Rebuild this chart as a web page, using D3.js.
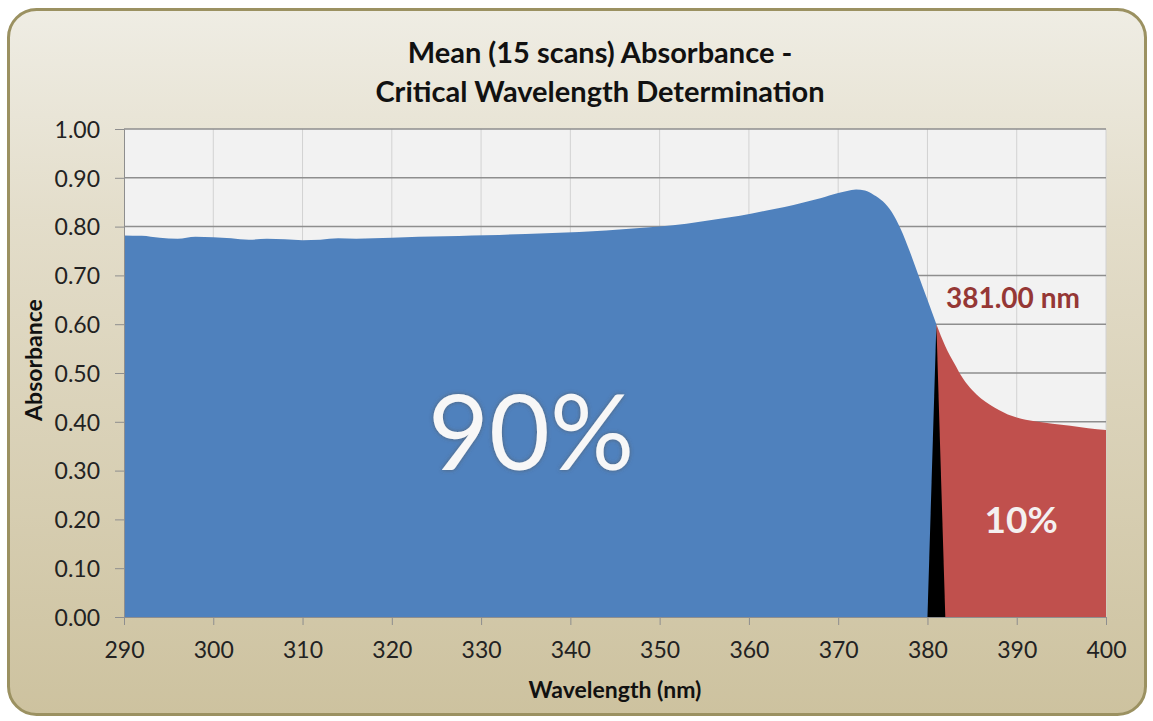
<!DOCTYPE html>
<html>
<head>
<meta charset="utf-8">
<script src="https://cdn.jsdelivr.net/npm/d3@7"></script>
<style>
  body { margin: 0; background: #ffffff; }
  text { font-family: Lato, "Open Sans", sans-serif; }
</style>
</head>
<body>
<div id="plot"></div>
<script>
// wavelength (nm) and mean absorbance
var wavelengths = [290, 292, 294, 296, 298, 300, 302, 304, 306, 308, 310, 312, 314, 316, 318, 320,
    323, 326, 329, 332, 335, 338, 341, 344, 347, 350, 353, 356, 359, 362, 364, 366, 368, 370,
    371, 372, 373, 374, 375, 376, 377, 378, 379, 380, 381, 382, 383, 384, 385, 386, 387, 388,
    389, 390, 392, 394, 396, 398, 400];
var absorbance = [0.782, 0.781, 0.777, 0.775, 0.779, 0.778, 0.776, 0.773, 0.775, 0.774, 0.772, 0.773,
    0.776, 0.775, 0.776, 0.777, 0.779, 0.780, 0.782, 0.783, 0.785, 0.787, 0.789, 0.792, 0.796, 0.800,
    0.806, 0.814, 0.822, 0.833, 0.840, 0.849, 0.858, 0.869, 0.873, 0.876, 0.874, 0.865, 0.852, 0.830,
    0.795, 0.750, 0.700, 0.650, 0.600, 0.555, 0.520, 0.488, 0.465, 0.448, 0.435, 0.424, 0.415, 0.409,
    0.401, 0.396, 0.392, 0.387, 0.383];
var criticalWavelength = 381;
var xTicks = [290, 300, 310, 320, 330, 340, 350, 360, 370, 380, 390, 400];
var yTicks = [0, 0.1, 0.2, 0.3, 0.4, 0.5, 0.6, 0.7, 0.8, 0.9, 1.0];
var titleLines = ['Mean (15 scans) Absorbance -', 'Critical Wavelength Determination'];

var data = wavelengths.map(function (w, i) { return { x: w, y: absorbance[i] }; });
var below = data.filter(function (d) { return d.x <= criticalWavelength; });
var above = data.filter(function (d) { return d.x >= criticalWavelength; });
var critPoint = data.filter(function (d) { return d.x === criticalWavelength; })[0];

var svg = d3.select('#plot')
    .append('svg')
    .attr('width', 1153)
    .attr('height', 721);

var defs = svg.append('defs');
var bg = defs.append('linearGradient')
    .attr('id', 'bg')
    .attr('x1', 0).attr('y1', 0).attr('x2', 0).attr('y2', 1);
bg.append('stop').attr('offset', '0%').attr('stop-color', '#efede4');
bg.append('stop').attr('offset', '30%').attr('stop-color', '#e3ddca');
bg.append('stop').attr('offset', '100%').attr('stop-color', '#cdc29f');

var glow = defs.append('filter')
    .attr('id', 'glow')
    .attr('x', '-20%').attr('y', '-20%').attr('width', '140%').attr('height', '140%');
glow.append('feDropShadow')
    .attr('dx', 0).attr('dy', 0)
    .attr('stdDeviation', 2)
    .attr('flood-color', '#555')
    .attr('flood-opacity', 0.7);

svg.append('rect')
    .attr('x', 8.5).attr('y', 9.5)
    .attr('width', 1137).attr('height', 705)
    .attr('rx', 28).attr('ry', 28)
    .attr('fill', 'url(#bg)')
    .attr('stroke', '#9b9161')
    .attr('stroke-width', 3);

var plotLeft = 124, plotRight = 1106, plotTop = 129, plotBottom = 617;

var x = d3.scaleLinear().domain([290, 400]).range([plotLeft, plotRight]);
var y = d3.scaleLinear().domain([0, 1]).range([plotBottom, plotTop]);

// plot area
svg.append('rect')
    .attr('x', plotLeft).attr('y', plotTop)
    .attr('width', plotRight - plotLeft).attr('height', plotBottom - plotTop)
    .attr('fill', '#f2f2f2');

svg.append('g')
    .selectAll('line')
    .data(xTicks.slice(1))
    .enter()
    .append('line')
    .attr('x1', function (d) { return x(d); })
    .attr('x2', function (d) { return x(d); })
    .attr('y1', plotTop).attr('y2', plotBottom)
    .attr('stroke', '#d2d2d2')
    .attr('stroke-width', 1);

svg.append('g')
    .selectAll('line')
    .data(yTicks.slice(1))
    .enter()
    .append('line')
    .attr('x1', plotLeft).attr('x2', plotRight)
    .attr('y1', function (d) { return y(d); })
    .attr('y2', function (d) { return y(d); })
    .attr('stroke', '#8e8e8e')
    .attr('stroke-width', 1.5);

var area = d3.area()
    .x(function (d) { return x(d.x); })
    .y0(y(0))
    .y1(function (d) { return y(d.y); })
    .curve(d3.curveMonotoneX);

svg.append('path')
    .attr('d', area(below))
    .attr('fill', '#4f81bd');

svg.append('path')
    .attr('d', area(above))
    .attr('fill', '#c0504d');

// wedge marking the critical wavelength
var wedge = d3.line()
    .x(function (d) { return x(d[0]); })
    .y(function (d) { return y(d[1]); });
svg.append('path')
    .attr('d', wedge([[criticalWavelength - 1, 0], [criticalWavelength, critPoint.y], [criticalWavelength + 1, 0]]) + 'Z')
    .attr('fill', '#000');

// axes
var xAxis = d3.axisBottom(x).tickValues(xTicks).tickSize(8).tickPadding(17);
var gx = svg.append('g')
    .attr('transform', 'translate(0,' + plotBottom + ')')
    .call(xAxis);
var yAxis = d3.axisLeft(y).tickValues(yTicks).tickSize(9).tickPadding(15)
    .tickFormat(d3.format('.2f'));
var gy = svg.append('g')
    .attr('transform', 'translate(' + plotLeft + ',0)')
    .call(yAxis);

[gx, gy].forEach(function (g) {
    g.select('.domain').attr('stroke', '#8e8e8e').attr('stroke-width', 1);
    g.selectAll('.tick line').attr('stroke', '#8e8e8e');
    g.selectAll('.tick text')
        .attr('fill', '#222')
        .style('font-size', '23px')
        .style('font-family', 'Lato, sans-serif');
});
gy.selectAll('.tick text').attr('dy', '0.36em');

// titles
svg.append('text')
    .attr('x', 600).attr('y', 63)
    .attr('text-anchor', 'middle')
    .style('font-size', '29px')
    .style('font-weight', 'bold')
    .attr('fill', '#111')
    .text(titleLines[0]);
svg.append('text')
    .attr('x', 600).attr('y', 102)
    .attr('text-anchor', 'middle')
    .style('font-size', '29px')
    .style('font-weight', 'bold')
    .attr('fill', '#111')
    .text(titleLines[1]);

svg.append('text')
    .attr('x', 615).attr('y', 698)
    .attr('text-anchor', 'middle')
    .style('font-size', '23px')
    .style('font-weight', 'bold')
    .attr('fill', '#111')
    .text('Wavelength (nm)');

svg.append('text')
    .attr('transform', 'translate(42,360) rotate(-90)')
    .attr('text-anchor', 'middle')
    .style('font-size', '23px')
    .style('font-weight', 'bold')
    .attr('fill', '#111')
    .text('Absorbance');

// annotations
svg.append('text')
    .attr('x', x(335.6)).attr('y', 470)
    .attr('text-anchor', 'middle')
    .style('font-size', '105px')
    .attr('fill', '#f7f7f7')
    .attr('filter', 'url(#glow)')
    .text('90%');

svg.append('text')
    .attr('x', x(390.5)).attr('y', 533)
    .attr('text-anchor', 'middle')
    .style('font-size', '37px')
    .style('font-weight', 'bold')
    .attr('fill', '#f4f0f0')
    .text('10%');

svg.append('text')
    .attr('x', 946).attr('y', 308)
    .style('font-size', '28px')
    .style('font-weight', 'bold')
    .attr('fill', '#953735')
    .text(d3.format('.2f')(criticalWavelength) + ' nm');
</script>
</body>
</html>
